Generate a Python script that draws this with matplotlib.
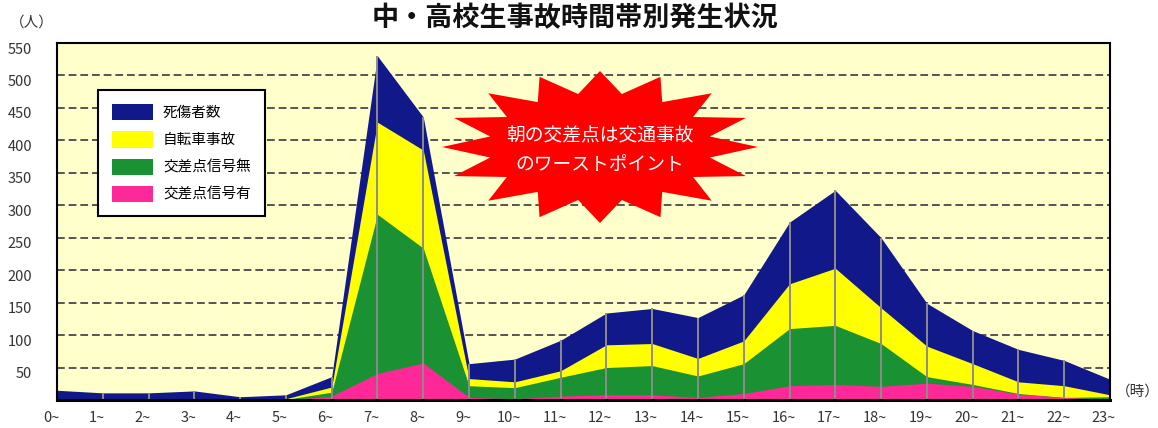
import numpy as np
import matplotlib
matplotlib.use("Agg")
import matplotlib.pyplot as plt
from matplotlib.patches import Patch, Polygon
from matplotlib.transforms import ScaledTranslation

plt.rcParams['font.family'] = ['Noto Sans CJK JP', 'DejaVu Sans']

# data (people per hour band)
hours = list(range(24))
hour_labels = [f"{h}~" for h in hours]
total = [15, 11, 11, 14, 5, 8, 36, 530, 436, 56, 63, 92, 134, 141, 127, 162, 274, 323, 250, 149, 107, 78, 61, 32]
bicycle = [0, 0, 0, 0, 0, 2, 20, 428, 385, 33, 28, 45, 85, 87, 64, 91, 179, 203, 142, 83, 56, 28, 22, 8]
no_signal = [0, 0, 0, 0, 0, 1, 12, 286, 234, 22, 19, 35, 50, 53, 37, 56, 110, 115, 87, 36, 24, 10, 4, 5]
signal = [0, 0, 0, 0, 0, 0, 6, 41, 57, 4, 2, 6, 8, 8, 4, 10, 22, 24, 21, 26, 21, 9, 4, 1]

series_names = ["死傷者数", "自転車事故", "交差点信号無", "交差点信号有"]
colors = ["#10188a", "#ffff00", "#1a9132", "#ff2898"]
yticks = list(range(50, 551, 50))

fig = plt.figure(figsize=(11.58, 4.28), dpi=100)
ax = fig.add_axes([57/1158, 1 - 400/428, (1110 - 57)/1158, (400 - 43)/428])
ax.set_facecolor("#ffffcc")

# dashed horizontal grid behind the areas
for y in yticks[:-1]:
    ax.axhline(y, color="#555555", lw=1.4, ls=(0, (4, 2)), zorder=1)

for vals, c in zip([total, bicycle, no_signal, signal], colors):
    ax.fill_between(hours, 0, vals, color=c, lw=0, zorder=2)

# drop lines at each hour
ax.vlines(hours[1:-1], 0, total[1:-1], color="#8c8c8c", lw=1.4, zorder=3)

ax.set_xlim(0, 23)
ax.set_ylim(0, 550)
ax.set_yticks(yticks)
ax.set_yticklabels([str(v) for v in yticks], fontsize=10.5, color="#333333")
ax.set_xticks(hours)
ax.set_xticklabels(hour_labels, fontsize=10.5, color="#333333")
ax.tick_params(axis="y", length=0, pad=18)
ax.tick_params(axis="x", length=0, pad=8)
for lab in ax.get_yticklabels():
    lab.set_transform(lab.get_transform() + ScaledTranslation(0, -0.05, fig.dpi_scale_trans))
for lab in ax.get_xticklabels():
    lab.set_transform(lab.get_transform() + ScaledTranslation(-0.06, 0, fig.dpi_scale_trans))

for s in ax.spines.values():
    s.set_color("black")
    s.set_linewidth(1.5)
    s.set_zorder(5)
ax.spines["bottom"].set_linewidth(2.2)

handles = [Patch(facecolor=c, edgecolor="none") for c in colors]
leg = ax.legend(handles, series_names, loc="upper left", bbox_to_anchor=(0.039, 0.868),
                fontsize=10.5, frameon=True, fancybox=False, framealpha=1,
                handlelength=2.8, handleheight=1.35, labelspacing=0.75,
                handletextpad=0.7, borderpad=0.95, borderaxespad=0)
leg.get_frame().set_edgecolor("black")
leg.get_frame().set_linewidth(1.5)
leg.set_zorder(6)

# red starburst callout
cx, cy = 600, 147
n = 16
t = np.linspace(0, 2*np.pi, 2*n, endpoint=False) + np.pi/2
rx = np.where(np.arange(2*n) % 2 == 0, 158, 112)
ry = np.where(np.arange(2*n) % 2 == 0, 76, 54)
px = cx + rx*np.cos(t)
py = cy - ry*np.sin(t)
star = Polygon(np.column_stack([px/1158, 1 - py/428]), closed=True,
               facecolor="#ff0000", edgecolor="none", transform=fig.transFigure, zorder=7)
fig.patches.append(star)
fig.text(600/1158, 1 - 150/428, "朝の交差点は交通事故\nのワーストポイント", ha="center", va="center",
         fontsize=13.5, color="white", linespacing=1.45, zorder=8)

fig.text(575/1158, 1 - 18/428, "中・高校生事故時間帯別発生状況", ha="center", va="center",
         fontsize=19.5, fontweight="bold", color="#111111")
fig.text(32/1158, 1 - 23/428, "（人）", ha="center", va="center", fontsize=10.5, color="#333333")
fig.text(1138/1158, 1 - 392/428, "（時）", ha="center", va="center", fontsize=10.5, color="#333333")

fig.savefig("out.png", dpi=100)
